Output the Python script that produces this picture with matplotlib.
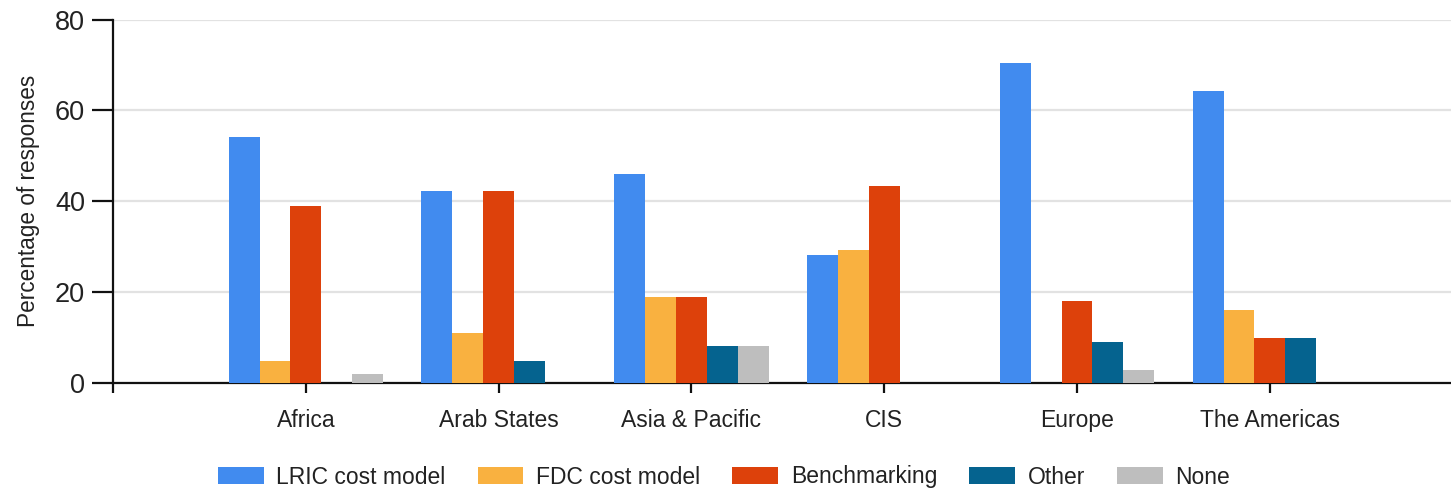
import matplotlib
matplotlib.use("Agg")
import matplotlib.pyplot as plt
import numpy as np

regions = ["Africa", "Arab States", "Asia & Pacific", "CIS", "Europe", "The Americas"]
series_names = ["LRIC cost model", "FDC cost model", "Benchmarking", "Other", "None"]
lric = [54.1, 42.3, 46.0, 28.2, 70.4, 64.3]
fdc = [4.8, 10.9, 18.9, 29.2, 0.0, 16.0]
benchmarking = [39.0, 42.3, 18.9, 43.3, 17.9, 9.9]
other = [0.0, 4.8, 8.0, 0.0, 9.0, 9.9]
none = [1.9, 0.0, 8.0, 0.0, 2.8, 0.0]
y_ticks = [0, 20, 40, 60, 80]

colors = ["#418BEF", "#F9B140", "#DD410B", "#05638F", "#BEBEBE"]
text_color = "#222222"

plt.rcParams["font.family"] = ["Liberation Sans", "DejaVu Sans"]

W, H = 1451, 492
fig = plt.figure(figsize=(W / 100, H / 100), dpi=100)
left_px, right_px, top_px, bottom_px = 113, 1451, 19.7, 382.7
ax = fig.add_axes([left_px / W, 1 - bottom_px / H,
                   (right_px - left_px) / W, (bottom_px - top_px) / H])

values = [lric, fdc, benchmarking, other, none]
x = np.arange(1, len(regions) + 1)
n = len(values)
bar_w = 0.8 / n
for i, (name, vals, col) in enumerate(zip(series_names, values, colors)):
    ax.bar(x + (i - (n - 1) / 2) * bar_w, vals, width=bar_w, color=col,
           label=name, zorder=3, linewidth=0)

ax.set_xlim(0, (right_px - left_px) / 192.8)
ax.set_ylim(0, 80)
ax.set_yticks(y_ticks)
ax.set_yticklabels([str(v) for v in y_ticks], fontsize=19.5, color=text_color)
ax.set_xticks([0] + list(x))
ax.set_xticklabels([""] + regions, fontsize=16.5, color=text_color)

ax.yaxis.grid(True, color="#E2E2E2", linewidth=1.6, zorder=0)
ax.set_axisbelow(True)
for s in ["top", "right"]:
    ax.spines[s].set_visible(False)
for s in ["left", "bottom"]:
    ax.spines[s].set_linewidth(1.6)
    ax.spines[s].set_color("#111111")
ax.tick_params(axis="y", length=15, width=1.6, color="#111111", pad=5)
ax.tick_params(axis="x", length=7, width=1.6, color="#111111", pad=12)

ax.set_ylabel("Percentage of responses", fontsize=16.3, color=text_color, labelpad=11)

leg = fig.legend(loc="center", bbox_to_anchor=(724 / W, 1 - 477 / H), ncol=5,
                 frameon=False, fontsize=16.5, handlelength=2.0, handleheight=0.8,
                 handletextpad=0.55, columnspacing=1.4, labelcolor=text_color)

fig.savefig("out.png", dpi=100, facecolor="white")
